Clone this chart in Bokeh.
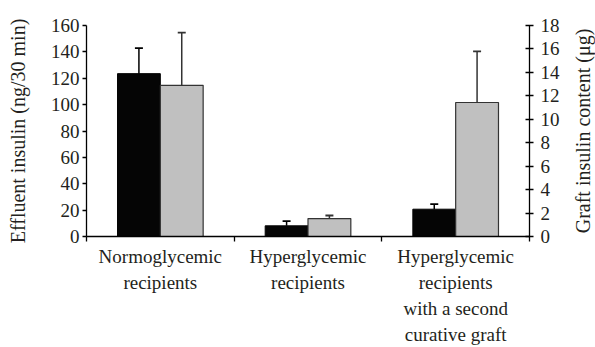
from bokeh.plotting import figure
from bokeh.models import Range1d, LinearAxis, FixedTicker
from bokeh.layouts import row
from bokeh.embed import file_html
from bokeh.resources import INLINE

categories = ["Normoglycemic\nrecipients", "Hyperglycemic\nrecipients",
              "Hyperglycemic\nrecipients\nwith a second\ncurative graft"]
effluent = [123.5, 8.1, 20.7]
effluent_err = [19.4, 3.5, 3.8]
graft = [12.9, 1.53, 11.43]
graft_err = [4.5, 0.26, 4.36]
left_ticks = [0, 20, 40, 60, 80, 100, 120, 140, 160]
right_ticks = [0, 2, 4, 6, 8, 10, 12, 14, 16, 18]
left_title = "Effluent insulin (ng/30 min)"
right_title = "Graft insulin content (μg)"

FONT = "Liberation Serif"
FS = "19px"
TFS = "20px"
TC = "#231f20"

centers = [i + 0.5 for i in range(len(categories))]
bounds = [float(i) for i in range(len(categories) + 1)]
bw = 0.29

p = figure(width=562, height=347, output_backend="svg", toolbar_location=None,
           x_range=Range1d(0, 3), y_range=Range1d(0, 160),
           min_border_left=86, min_border_right=30, min_border_top=25, min_border_bottom=110)
p.extra_y_ranges = {"right": Range1d(0, 18)}
p.outline_line_color = None
p.grid.visible = False
p.xaxis.visible = False
p.yaxis.visible = False

bx = [c - bw / 2 for c in centers]
gx = [c + bw / 2 for c in centers]
p.vbar(x=bx, top=effluent, width=bw, bottom=0, fill_color="#050505", line_color="#050505", line_width=1)
p.vbar(x=gx, top=graft, width=bw, bottom=0, fill_color="#c0c0c0", line_color="#333333", line_width=1.2,
       y_range_name="right")

etop = [v + e for v, e in zip(effluent, effluent_err)]
gtop = [v + e for v, e in zip(graft, graft_err)]
p.segment(x0=bx, x1=bx, y0=effluent, y1=etop, line_color="black", line_width=1.5)
p.scatter(x=bx, y=etop, marker="dash", size=8, line_color="black", line_width=1.8)
p.segment(x0=gx, x1=gx, y0=graft, y1=gtop, line_color="#333333", line_width=1.5, y_range_name="right")
p.scatter(x=gx, y=gtop, marker="dash", size=8, line_color="#333333", line_width=1.8, y_range_name="right")

def style(ax):
    ax.major_label_text_font = FONT
    ax.major_label_text_font_size = FS
    ax.major_label_text_color = TC
    ax.axis_label_text_font = FONT
    ax.axis_label_text_font_size = TFS
    ax.axis_label_text_font_style = "normal"
    ax.axis_label_text_color = TC
    ax.axis_line_color = "black"
    ax.axis_line_width = 1.3
    ax.major_tick_line_color = "black"
    ax.major_tick_line_width = 1.3
    ax.minor_tick_line_color = None

ly = LinearAxis(ticker=FixedTicker(ticks=left_ticks), axis_label=left_title)
style(ly)
ly.major_tick_in = 0
ly.major_tick_out = 4
ly.major_label_standoff = 3
ly.axis_label_standoff = 19
p.add_layout(ly, "left")

ry = LinearAxis(ticker=FixedTicker(ticks=right_ticks), y_range_name="right")
style(ry)
ry.major_tick_in = 4
ry.major_tick_out = 4
ry.major_label_standoff = 7
p.add_layout(ry, "right")

# category labels, one axis per text row; the first row also carries the
# x axis line and the boundary tick marks (as minor ticks)
rows = [c.split("\n") for c in categories]
nrows = max(len(r) for r in rows)
for k in range(nrows):
    cs = [c for c, r in zip(centers, rows) if k < len(r)]
    over = {c: r[k] for c, r in zip(centers, rows) if k < len(r)}
    if k == 0:
        tk = FixedTicker(ticks=cs, minor_ticks=bounds)
    else:
        tk = FixedTicker(ticks=cs)
    ax = LinearAxis(ticker=tk, major_label_overrides=over)
    style(ax)
    ax.major_tick_line_color = None
    ax.major_tick_in = 0
    ax.major_tick_out = 0
    if k == 0:
        ax.minor_tick_line_color = "black"
        ax.minor_tick_line_width = 1.3
        ax.minor_tick_in = 0
        ax.minor_tick_out = 5
        ax.major_label_standoff = 4
    else:
        ax.axis_line_color = None
        ax.major_label_standoff = 2
    p.add_layout(ax, "below")

# narrow companion figure that carries the right-hand axis title (reads bottom to top)
p2 = figure(width=33, height=347, output_backend="svg", toolbar_location=None,
            x_range=Range1d(0, 1), y_range=Range1d(0, 1),
            min_border_left=31, min_border_right=0, min_border_top=25, min_border_bottom=106)
p2.outline_line_color = None
p2.grid.visible = False
p2.xaxis.visible = False
p2.yaxis.visible = False
t_ax = LinearAxis(ticker=FixedTicker(ticks=[]), axis_label=right_title)
style(t_ax)
t_ax.axis_line_color = None
t_ax.major_tick_line_color = None
t_ax.major_tick_in = 0
t_ax.major_tick_out = 0
t_ax.axis_label_standoff = 0
p2.add_layout(t_ax, "left")

layout = row(p, p2, spacing=0)
open("out.html", "w").write(file_html(layout, INLINE))
